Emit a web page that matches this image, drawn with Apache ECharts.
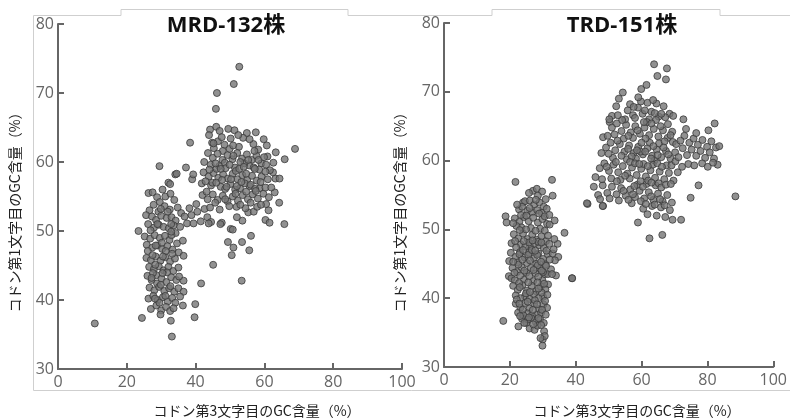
<!DOCTYPE html>
<html>
<head>
<meta charset="utf-8">
<script src="https://cdn.jsdelivr.net/npm/echarts@6/dist/echarts.min.js"></script>
<style>html,body{margin:0;padding:0;background:#fff;}#c{width:790px;height:418px;}</style>
</head>
<body>
<div id="c"></div>
<script>
const titles = ['MRD-132株', 'TRD-151株'];
const xName = 'コドン第3文字目のGC含量（%）';
const yName = 'コドン第1文字目のGC含量（%）';
const xTicks = [0, 20, 40, 60, 80, 100];
const yTicks = [30, 40, 50, 60, 70, 80];

// MRD-132: [GC3, GC1]
const mrdLow = [
[26.3,55.5],[27.5,55.6],[28.8,54.9],[30.4,56.0],[31.2,55.0],[32.7,55.4],[33.8,54.5],[29.6,54.2],[27.8,53.8],[31.0,53.6],[32.5,53.1],[34.8,53.4],[26.6,53.0],[29.2,52.8],
[25.6,52.3],[27.3,52.1],[28.5,51.6],[30.0,52.2],[31.6,51.9],[33.0,52.0],[34.2,51.5],[35.8,52.6],[26.2,51.0],[27.9,50.5],[29.3,50.9],[30.7,50.6],[32.2,50.4],[33.6,50.8],[35.5,50.6],[36.8,52.1],[23.4,50.0],
[25.2,49.2],[26.8,48.9],[28.1,49.4],[29.6,49.0],[31.1,49.3],[32.4,48.7],[34.2,49.7],[25.8,48.0],[27.4,47.6],[28.9,47.9],[30.3,47.4],[31.8,47.8],[33.3,47.3],[34.6,48.2],[36.3,48.6],[26.1,47.1],[35.1,46.9],
[25.7,46.1],[27.0,45.8],[28.4,46.3],[29.8,45.7],[31.2,46.2],[32.6,45.6],[34.0,46.0],[36.5,46.4],[26.5,44.8],[27.9,44.5],[29.3,44.9],[30.7,44.3],[32.1,44.8],[33.5,44.2],[35.0,44.7],[28.6,43.6],
[26.0,43.5],[27.2,42.9],[28.8,42.4],[30.1,43.1],[31.5,42.6],[32.9,43.3],[34.4,42.9],[36.5,42.8],[35.2,43.4],[26.6,41.8],[28.0,41.4],[29.4,41.9],[30.9,41.3],[32.3,41.7],[33.8,41.2],[35.0,41.7],[36.5,41.2],
[26.3,40.2],[27.7,40.6],[29.0,40.0],[30.5,40.4],[31.9,39.8],[33.2,40.3],[35.5,40.5],[34.1,39.6],[27.0,38.7],[28.6,39.2],[30.0,38.5],[31.4,39.0],[32.6,38.4],[33.6,38.8],[29.5,39.6],[36.3,39.2],
[24.4,37.4],[32.8,37.0],[33.1,34.7],[10.7,36.6],[39.7,37.5],[39.9,39.4],
[30.2,48.3],[28.3,45.1],[31.7,44.0],[29.9,42.2],[27.6,43.9],[31.3,47.1],[33.0,49.4],[28.9,51.0],
[26.9,50.1],[29.9,53.2],[32.9,51.0],[27.5,46.5],[30.5,46.3],[33.2,46.7],[27.2,43.2],[30.4,43.9],[32.7,42.0],[28.2,40.2],[31.2,40.6],[29.8,37.9],[31.9,52.8],[28.4,47.9],[32.9,49.9]
];
const mrdHigh = [
[37.5,51.1],[38.8,52.3],[39.4,51.1],[40.5,52.8],[41.5,51.4],[42.6,53.2],[40.2,53.9],[43.4,52.0],[44.5,51.3],[38.2,53.3],
[41.6,42.4],[45.1,45.1],[53.4,42.8],[50.5,46.5],[51.0,47.6],[49.4,48.4],[53.5,48.4],[55.6,47.2],[56.1,49.3],[65.8,51.0],[64.3,54.1],[61.2,53.0],[60.3,51.6],[61.5,51.2],[47.6,51.2],[50.2,50.3],[53.6,51.5],[55.3,52.7],
[43.8,51.1],[47.2,51.0],[50.8,50.2],[52.0,52.0],[51.9,53.5],[56.9,52.8],
[44.2,64.7],[46.0,65.1],[47.0,64.5],[49.5,64.8],[51.3,64.6],[54.9,64.2],[59.8,63.3],[44.8,62.8],[46.5,63.0],[48.4,62.5],[50.2,63.4],[52.6,62.2],[53.8,63.5],[56.8,62.6],[58.2,61.8],[45.3,62.0],[47.9,61.6],[45.2,62.7],
[43.6,61.3],[45.0,60.6],[46.4,61.2],[47.8,60.3],[49.3,61.0],[50.7,60.4],[52.1,61.3],[53.5,60.5],[54.9,61.1],[56.3,60.3],[57.7,60.9],[59.1,59.8],[60.5,59.6],[62.6,59.9],[65.9,60.4],[68.9,61.9],[44.4,59.6],[46.9,59.4],[48.5,59.9],[51.4,59.2],[55.6,59.5],[58.5,58.9],[42.5,60.0],[60.9,60.8],[63.3,61.4],
[42.3,58.5],[43.8,57.9],[45.2,58.4],[46.6,57.7],[48.0,58.2],[49.4,57.6],[50.8,58.3],[52.2,57.5],[53.6,58.1],[55.0,57.4],[56.4,58.0],[57.8,57.3],[59.2,57.9],[61.0,57.5],[44.5,56.6],[47.3,56.4],[50.1,56.8],[52.9,56.2],[55.7,56.5],[58.6,56.2],[41.8,56.9],[63.2,57.6],[62.5,58.5],[64.4,57.6],
[38.4,62.8],[37.2,59.2],[34.1,58.2],[34.5,58.3],[32.1,57.0],[32.6,56.8],[29.5,59.4],[39.0,57.5],[39.3,58.2],
[42.0,55.2],[43.5,54.6],[45.0,55.3],[46.4,54.5],[47.9,55.1],[49.3,54.3],[50.8,55.0],[52.3,54.4],[53.7,55.2],[55.2,54.6],[56.6,55.3],[58.1,54.7],[59.7,55.4],[61.3,54.9],[63.0,55.6],[44.2,53.4],[47.0,53.1],[49.8,53.6],[54.5,53.3],[57.9,53.5],[60.5,53.9],
[48.7,59.1],[51.7,58.7],[54.2,59.8],[46.1,59.0],[49.9,61.9],[53.0,60.0],[57.1,61.6],[48.6,56.1],[51.5,56.0],[54.3,56.9],[56.9,59.2],
[43.9,63.9],[47.6,63.6],[50.9,62.4],[52.4,63.9],[55.7,63.3],[57.5,64.3],[60.7,62.4],
[44.0,58.9],[45.8,59.8],[47.3,59.0],[49.9,59.6],[51.0,60.9],[52.7,59.0],[54.0,59.3],[55.3,60.3],[57.2,59.0],[58.3,60.3],[59.9,60.7],[61.6,58.8],
[42.9,57.2],[44.9,57.0],[46.0,57.0],[47.7,57.4],[49.0,56.4],[50.3,57.5],[52.0,56.5],[53.3,57.1],[54.7,58.3],[56.0,56.7],[57.3,56.1],[58.9,57.1],[60.3,58.6],
[43.2,55.7],[45.7,54.1],[48.6,54.6],[51.6,55.4],[53.0,53.8],[54.7,55.7],[56.0,54.1],[57.5,55.8],[59.0,53.8],[60.3,56.3],[62.0,56.3],
[52.7,73.8],[51.1,71.3],[46.2,70.0],[45.9,67.7]
];

// TRD-151: [GC3, GC1]
const trdLow = [
[21.7,56.9],[32.8,57.2],[27.0,55.6],[28.2,55.9],[29.8,55.5],[33.0,54.9],[28.5,54.9],[25.8,55.3],
[24.0,53.9],[24.6,54.1],[26.1,54.2],[27.4,53.6],[29.0,53.9],[30.3,53.3],[22.8,52.9],[25.3,52.7],[26.8,52.5],[28.3,52.8],[29.7,52.4],[31.2,53.0],[23.7,53.3],
[18.7,51.9],[19.0,51.0],[21.5,51.6],[22.9,51.1],[24.3,51.8],[25.7,51.2],[27.1,51.7],[28.5,51.0],[29.9,51.5],[31.3,50.8],[32.1,50.7],[33.6,51.3],[23.5,50.3],[26.4,50.2],[29.2,50.1],[30.6,49.8],
[21.2,49.3],[22.6,48.7],[24.0,49.4],[25.4,48.6],[26.8,49.2],[28.2,48.5],[29.6,49.0],[31.0,48.3],[20.5,48.0],[23.3,47.8],[26.1,47.6],[28.9,47.7],[30.3,47.3],[32.0,47.9],[34.5,47.9],[21.9,47.4],[24.7,47.5],[27.5,48.0],
[20.3,46.6],[21.7,46.0],[23.1,46.7],[24.5,45.9],[25.9,46.6],[27.3,45.8],[28.7,46.5],[30.1,45.7],[31.5,46.4],[33.0,46.5],[34.7,46.0],[33.7,45.5],[22.4,45.2],[25.2,45.1],[28.0,45.0],[30.8,44.9],[19.8,45.4],
[20.8,44.4],[22.2,43.8],[23.6,44.5],[25.0,43.7],[26.4,44.4],[27.8,43.6],[29.2,44.3],[30.6,43.5],[31.5,43.5],[34.0,43.3],[32.5,44.2],[19.7,43.2],[20.5,42.9],[21.5,42.6],[24.3,42.7],[27.1,42.5],[29.9,42.6],[31.6,42.0],[38.9,42.9],
[21.0,41.8],[22.4,41.2],[23.8,41.9],[25.2,41.1],[26.6,41.8],[28.0,41.0],[29.4,41.7],[30.8,41.3],[21.8,40.4],[24.6,40.3],[27.3,40.5],[30.1,40.2],[23.2,40.0],[26.0,39.9],[28.7,40.0],
[21.8,39.2],[23.2,38.6],[24.6,39.3],[26.0,38.5],[27.4,39.2],[28.8,38.4],[30.2,39.1],[31.3,38.6],[22.5,37.9],[25.3,37.8],[28.1,37.6],[29.5,37.9],[23.9,38.3],[26.7,37.5],
[23.7,37.0],[25.0,36.4],[26.5,37.1],[27.9,36.5],[29.2,36.9],[30.3,36.4],[22.6,35.9],[18.0,36.7],[26.0,35.6],[27.5,35.4],[30.4,35.2],
[30.0,34.0],[30.6,34.5],[29.9,33.1],[29.3,34.2],
[22.0,50.5],[24.9,50.0],[27.8,49.8],[23.0,49.9],[25.8,48.1],[28.6,48.2],[22.9,46.4],[25.6,46.3],[28.3,46.3],[31.1,46.9],[22.6,44.9],[26.1,45.5],[28.5,44.8],[23.1,43.3],[25.9,43.2],[28.6,43.1],[22.8,42.2],[25.6,42.3],[28.4,42.3],[30.1,43.8],[22.1,39.8],[24.9,40.7],[27.6,39.7],[29.7,40.8],[24.1,37.5],[27.0,38.3],[29.8,38.3],[25.5,36.9],[28.4,36.0],
[21.0,50.9],[23.4,52.1],[26.0,53.1],[28.9,52.3],[30.6,51.9],
[21.6,48.3],[24.2,48.3],[26.9,48.4],[29.6,48.1],[31.6,49.1],
[21.0,45.3],[23.8,45.6],[26.7,47.0],[29.5,45.3],[32.1,45.6],[24.0,47.0],[27.7,46.9],
[21.4,43.7],[24.4,44.0],[27.2,44.1],[29.7,44.0],[31.0,44.7],[23.0,41.6],[26.1,40.9],[28.7,41.4],[30.4,42.1],[31.4,40.5],
[22.9,39.2],[25.4,39.5],[28.2,39.1],[30.7,39.6],[23.1,37.4],[25.8,37.2],[28.7,37.1],[30.9,37.6],[24.4,36.4],[27.1,36.2],[29.5,36.1],
[25.0,52.0],[27.9,54.3],[30.9,54.4],[22.2,53.6],[32.0,52.1],[33.5,48.6],[33.3,47.1],[32.8,43.5],
[36.6,49.5]
];
const trdHigh = [
[63.8,74.0],[67.7,73.4],[64.8,72.3],[67.4,71.8],[59.9,70.4],[61.5,71.0],[54.3,69.9],[51.0,66.5],[50.3,65.6],
[53.1,69.0],[52.3,67.9],[55.8,67.3],[57.4,66.6],[58.9,67.7],[60.3,66.8],[61.8,68.4],[63.0,67.1],[64.5,68.3],[65.2,66.4],[66.7,67.9],[68.5,66.8],[69.6,66.5],[56.5,68.2],[59.8,68.6],[62.3,66.0],
[50.2,66.0],[51.0,64.8],[52.5,65.4],[53.9,64.3],[55.3,65.2],[56.7,64.1],[58.1,65.0],[59.5,63.9],[60.9,64.8],[62.3,63.7],[63.7,64.6],[65.1,63.5],[66.5,64.4],[67.9,63.3],[69.3,64.2],[48.3,63.4],[49.7,63.6],[54.6,63.2],[57.4,63.3],[61.6,65.6],[64.4,65.9],[68.0,65.3],
[49.2,61.9],[50.6,62.6],[52.0,61.5],[53.4,62.4],[54.8,61.3],[56.2,62.2],[57.6,61.1],[59.0,62.0],[60.4,60.9],[61.8,61.8],[63.2,60.7],[64.6,61.6],[66.0,60.5],[67.4,61.4],[68.8,60.3],[70.2,61.2],[47.8,61.1],[51.3,60.4],[55.5,60.2],[58.3,60.3],[62.5,62.6],[65.3,62.5],[69.5,62.7],[59.7,61.3],[57.0,60.6],[63.9,60.0],
[47.3,58.9],[48.7,59.6],[50.1,58.5],[51.5,59.4],[52.9,58.3],[54.3,59.2],[55.7,58.1],[57.1,59.0],[58.5,57.9],[59.9,58.8],[61.3,57.7],[62.7,58.6],[64.1,57.5],[65.5,58.4],[66.9,57.3],[68.3,58.2],[69.7,57.1],[71.0,58.3],[46.0,57.6],[60.6,59.5],[63.4,59.4],[56.4,57.4],[53.6,57.2],[67.6,59.3],
[45.5,56.2],[46.8,55.0],[48.2,56.4],[49.6,55.3],[51.0,56.2],[52.4,55.1],[53.8,56.0],[55.2,54.9],[56.6,55.8],[58.0,54.7],[59.4,55.6],[60.8,54.5],[62.2,55.4],[63.6,54.3],[65.0,55.2],[66.4,54.1],[67.8,55.0],[69.2,53.9],[61.5,56.6],[64.3,56.4],[58.7,56.5],
[43.6,53.7],[48.3,53.4],[57.0,53.8],[58.9,51.0],[60.5,53.0],[61.8,52.2],[63.2,53.4],[64.6,52.0],[65.9,53.2],[67.2,51.8],[68.6,52.8],[69.4,51.4],[62.4,48.7],[66.3,49.2],[43.4,53.8],[48.2,53.4],
[55.0,66.0],[58.0,66.2],[61.0,67.3],[64.0,66.9],[67.2,66.3],
[51.8,63.8],[54.1,65.9],[56.0,63.6],[58.8,64.4],[61.2,63.2],[63.0,65.4],[65.8,65.0],[67.0,62.8],[68.8,63.7],
[50.0,61.0],[52.7,62.9],[55.9,61.7],[58.6,61.5],[60.0,62.6],[61.1,61.3],[63.6,62.1],[64.9,60.8],[66.7,61.9],[68.1,60.9],[70.5,62.4],
[49.4,59.1],[52.2,59.8],[53.9,60.7],[56.5,59.8],[58.0,59.6],[59.3,59.5],[61.9,59.2],[62.9,60.3],[64.8,59.6],[66.2,59.1],[69.1,59.3],[70.3,59.9],
[48.0,57.3],[50.8,57.4],[52.5,57.0],[55.0,57.8],[57.8,56.3],[59.7,57.0],[60.4,56.2],[62.0,57.1],[63.0,56.8],[65.2,56.7],[66.0,56.1],[67.4,56.5],[68.9,56.6],
[47.4,54.4],[50.3,54.5],[53.1,54.2],[54.5,55.6],[56.0,54.3],[57.4,55.1],[59.8,54.1],[61.3,53.7],[62.9,54.8],[64.0,53.6],[65.6,54.4],[67.0,53.5],
[57.6,67.8],[60.7,65.6],[63.5,68.8],[66.0,66.8],[52.8,66.6],[59.0,69.2],
[73.0,63.6],[74.5,62.6],[75.8,63.2],[77.1,62.3],[78.5,63.0],[79.9,62.0],[81.2,62.8],[82.6,61.9],[80.3,64.4],[82.2,65.4],[83.6,62.1],[83.1,59.4],[72.5,61.8],[73.8,60.8],[75.2,61.6],[76.6,60.7],[77.9,61.4],[79.3,60.4],[80.7,61.2],[82.0,60.3],[74.2,59.5],[76.0,59.3],[78.4,59.6],[80.1,59.1],[81.7,59.7],[73.5,64.6],[76.6,64.0],[71.8,62.9],[71.2,60.5],[72.3,59.1],[77.3,56.4],[74.9,54.6],[72.0,51.4],[72.7,66.0],
[88.5,54.8],[38.9,42.9]
];

const chart = echarts.init(document.getElementById('c'), null, {renderer: 'canvas'});
const grids = [
  {left: 58, top: 24, width: 344, height: 345},
  {left: 444, top: 23, width: 344, height: 344}
];
const axisCommon = {
  axisLine: {show: true, onZero: false, lineStyle: {color: '#666', width: 2}},
  axisTick: {show: true, inside: true, length: 6, lineStyle: {color: '#666', width: 2}},
  splitLine: {show: false},
  axisLabel: {color: '#666', fontSize: 16, fontFamily: 'Open Sans'}
};
function xAxis(i) {
  return Object.assign({}, axisCommon, {
    type: 'value', gridIndex: i, min: xTicks[0], max: xTicks[xTicks.length - 1],
    interval: xTicks[1] - xTicks[0],
    axisLabel: Object.assign({}, axisCommon.axisLabel, {margin: 5})
  });
}
function yAxis(i) {
  return Object.assign({}, axisCommon, {
    type: 'value', gridIndex: i, min: yTicks[0], max: yTicks[yTicks.length - 1],
    interval: yTicks[1] - yTicks[0],
    axisLabel: Object.assign({}, axisCommon.axisLabel, {margin: 4})
  });
}
const dot = {symbol: 'circle', symbolSize: 7, itemStyle: {color: '#767676', borderColor: '#3a3a3a', borderWidth: 1}};
function series(data, i) {
  return Object.assign({type: 'scatter', xAxisIndex: i, yAxisIndex: i, data: data, silent: true, animation: false}, dot);
}
const frame = '#cfcfcf';
function line(x1, y1, x2, y2) {
  return {type: 'line', shape: {x1, y1, x2, y2}, style: {stroke: frame, lineWidth: 1}, silent: true};
}
const graphics = [
  line(33.5, 15.5, 121, 15.5), line(121, 9.5, 121, 15.5), line(121, 9.5, 348, 9.5), line(348, 9.5, 348, 15.5),
  line(348, 15.5, 492, 15.5), line(492, 9.5, 492, 15.5), line(492, 9.5, 720, 9.5), line(720, 9.5, 720, 15.5),
  line(720, 15.5, 790, 15.5), line(33.5, 15.5, 33.5, 390.5), line(33.5, 390.5, 790, 390.5),
  {type: 'text', x: 226, y: 26, style: {text: titles[0], font: 'bold 22px "Open Sans","Noto Sans CJK JP"', fill: '#111', textAlign: 'center', textVerticalAlign: 'middle'}},
  {type: 'text', x: 622, y: 26, style: {text: titles[1], font: 'bold 22px "Open Sans","Noto Sans CJK JP"', fill: '#111', textAlign: 'center', textVerticalAlign: 'middle'}},
  {type: 'text', x: 257, y: 411, style: {text: xName, font: '14px "Noto Sans CJK JP"', fill: '#222', textAlign: 'center', textVerticalAlign: 'middle'}},
  {type: 'text', x: 637, y: 411, style: {text: xName, font: '14px "Noto Sans CJK JP"', fill: '#222', textAlign: 'center', textVerticalAlign: 'middle'}},
  {type: 'text', x: 15, y: 209, rotation: Math.PI / 2, style: {text: yName, font: '14px "Noto Sans CJK JP"', fill: '#222', textAlign: 'center', textVerticalAlign: 'middle'}},
  {type: 'text', x: 400, y: 209, rotation: Math.PI / 2, style: {text: yName, font: '14px "Noto Sans CJK JP"', fill: '#222', textAlign: 'center', textVerticalAlign: 'middle'}}
];
chart.setOption({
  animation: false,
  grid: grids,
  xAxis: [xAxis(0), xAxis(1)],
  yAxis: [yAxis(0), yAxis(1)],
  series: [series(mrdLow, 0), series(mrdHigh, 0), series(trdLow, 1), series(trdHigh, 1)],
  graphic: graphics
});
</script>
</body>
</html>
